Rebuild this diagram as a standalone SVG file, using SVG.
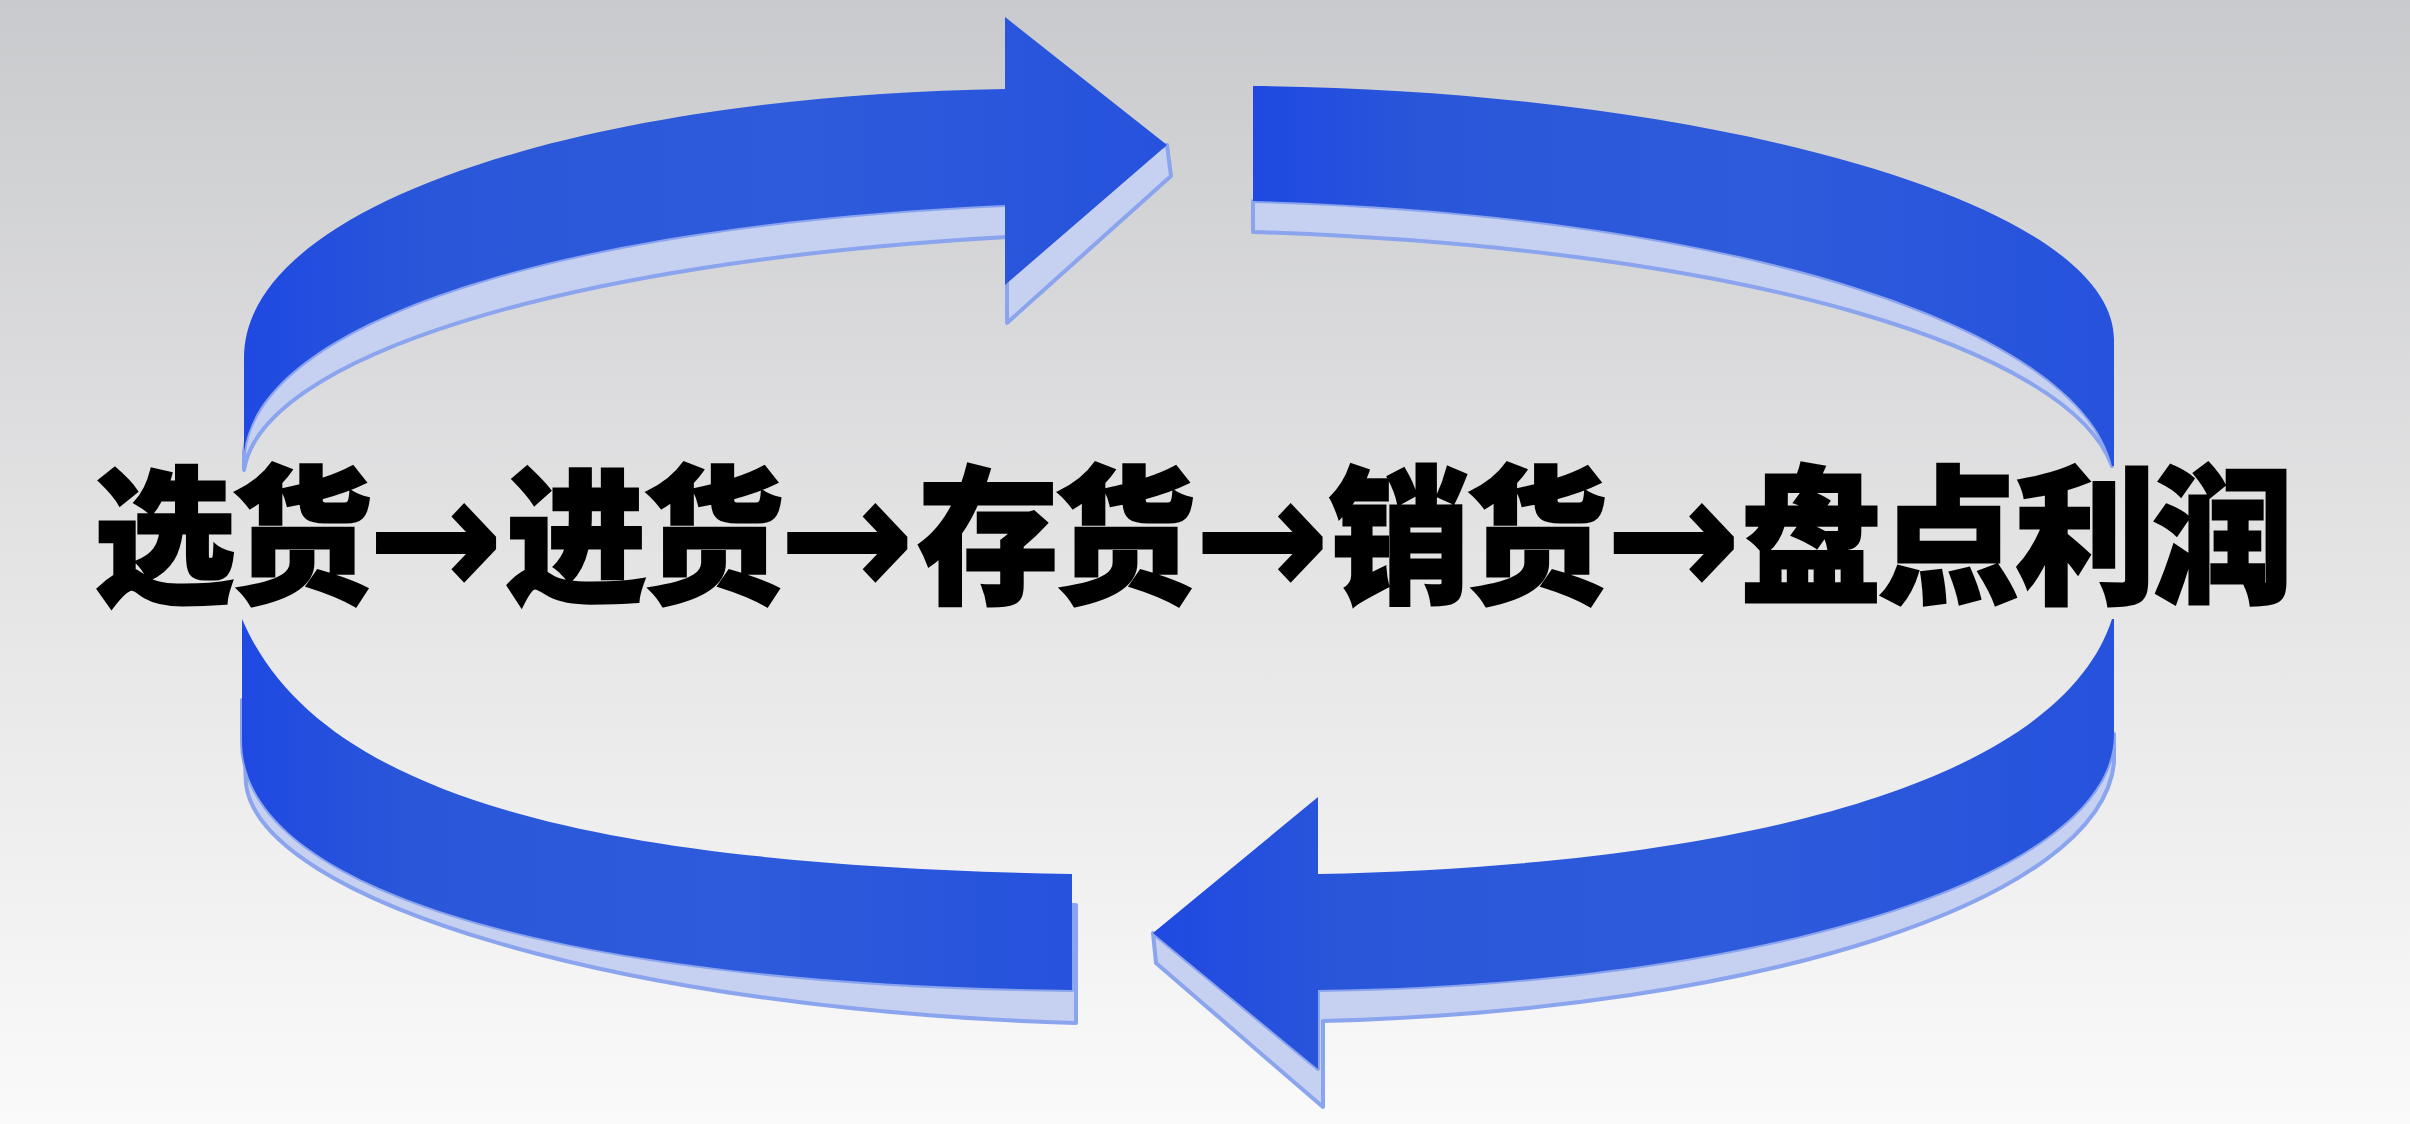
<svg xmlns="http://www.w3.org/2000/svg" width="2410" height="1124" viewBox="0 0 2410 1124">
  <defs>
    <linearGradient id="bg" x1="0" y1="0" x2="0" y2="1">
      <stop offset="0" stop-color="#c9cacd"/>
      <stop offset="0.5" stop-color="#e4e4e5"/>
      <stop offset="1" stop-color="#fafafa"/>
    </linearGradient>
    <linearGradient id="blueH" x1="0" y1="0" x2="1" y2="0">
      <stop offset="0" stop-color="#1f49e2"/>
      <stop offset="0.2" stop-color="#2a56d9"/>
      <stop offset="0.6" stop-color="#2e5bdb"/>
      <stop offset="1" stop-color="#2652dd"/>
    </linearGradient>
    <style>
      .body { fill: url(#blueH); }
      .shadow { fill: #c6d0f1; stroke: #8ba4ee; stroke-width: 4; stroke-linejoin: round; }
      .label { font-family: "Noto Sans CJK SC", "Noto Sans", sans-serif; font-weight: 900; font-size: 148px; fill: #000; stroke: #000; stroke-width: 3; stroke-linejoin: miter; }
      .arr { font-family: "DejaVu Sans", sans-serif; font-weight: bold; font-size: 170px; stroke-width: 2; }
    </style>
  </defs>

  <rect x="0" y="0" width="2410" height="1124" fill="url(#bg)"/>

  <g id="connectors">
    <g id="arrow-top-left">
      <path class="shadow" d="M 1167,145 L 1171,176 L 1007,323 L 1007,237 C 560,262 262,358 244,470 L 244,452 C 260,320 560,225 1005,205 Z"/>
      <path class="body" d="M 244,452 L 244,358 C 244,200 600,95 1005,89 L 1005,17 L 1167,145 L 1005,285 L 1005,205 C 560,225 260,320 244,452 Z"/>
    </g>
    <g id="arrow-top-right">
      <path class="shadow" d="M 1253,201 L 1253,232 C 1750,248 2070,350 2112,466 C 2080,330 1750,215 1253,201 Z"/>
      <path class="body" d="M 1253,86 C 1700,90 2114,200 2114,340 L 2114,466 L 2112,466 C 2080,330 1750,215 1253,201 Z"/>
    </g>
    <g id="arrow-bottom-left">
      <path class="shadow" d="M 242,700 L 246,784 C 260,900 620,1010 1076,1023 L 1076,905 L 1072,905 L 1072,990 C 600,985 242,900 242,741 Z"/>
      <path class="body" d="M 242,619 L 242,741 C 242,900 600,985 1072,990 L 1072,874 C 600,865 320,800 242,619 Z"/>
    </g>
    <g id="arrow-bottom-right">
      <path class="shadow" d="M 1153,933 L 1156,963 L 1323,1107 L 1323,1021 C 1760,1010 2100,900 2114,763 L 2114,734 C 2114,880 1750,985 1318,990 L 1318,1069 Z"/>
      <path class="body" d="M 2112,619 L 2114,619 L 2114,734 C 2114,880 1750,985 1318,990 L 1318,1069 L 1153,933 L 1318,797 L 1318,874 C 1750,865 2060,780 2112,619 Z"/>
    </g>
  </g>

  <g id="process-text">
    <text class="label" transform="scale(0.95,1)"><tspan x="99.5" y="591">选</tspan><tspan x="243.9" y="591">货</tspan><tspan class="arr" x="387" y="596">→</tspan><tspan x="532.7" y="591">进</tspan><tspan x="677.2" y="591">货</tspan><tspan class="arr" x="820" y="596">→</tspan><tspan x="966" y="591">存</tspan><tspan x="1110.4" y="591">货</tspan><tspan class="arr" x="1257" y="596">→</tspan><tspan x="1399.3" y="591">销</tspan><tspan x="1543.7" y="591">货</tspan><tspan class="arr" x="1690" y="596">→</tspan><tspan x="1832.5" y="591">盘</tspan><tspan x="1977" y="591">点</tspan><tspan x="2121.4" y="591">利</tspan><tspan x="2265.8" y="591">润</tspan></text>
  </g>
</svg>
